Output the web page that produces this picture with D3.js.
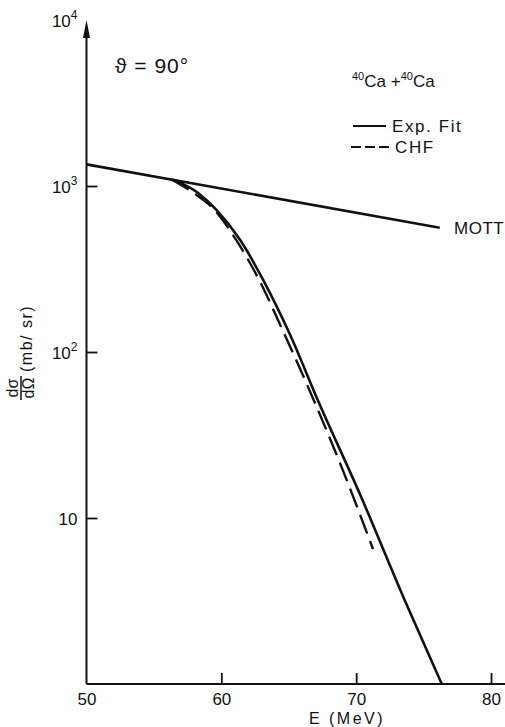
<!DOCTYPE html>
<html>
<head>
<meta charset="utf-8">
<script src="https://cdn.jsdelivr.net/npm/d3@7"></script>
<style>
  body { margin: 0; background: #fff; }
  svg text { font-family: "Liberation Sans", Arial, sans-serif; fill: #111; }
</style>
</head>
<body>
<svg id="chart" width="505" height="727"></svg>
<script>
// data (E in MeV, cross section in mb/sr)
const mott = [[50, 1350], [76.2, 560]];
const expFit = [
  [56.5, 1088], [58.3, 905], [59.6, 724], [61.4, 473],
  [63.1, 272], [65.1, 127], [67.15, 51.4], [70.3, 13.8], [73.6, 3.2], [76.35, 1.0]
];
const chf = [
  [56.3, 1096], [58.1, 890], [59.5, 717], [61.1, 473],
  [62.8, 272], [64.7, 127], [66.85, 51.4], [69.0, 19.5], [71.25, 6.5]
];
const xTicks = [50, 60, 70, 80];
const yTicks = [10, 100, 1000, 10000];
const yTickLabels = { 10: ["10", ""], 100: ["10", "2"], 1000: ["10", "3"], 10000: ["10", "4"] };

const svg = d3.select("#chart");
const ink = "#111";

const x = d3.scaleLinear().domain([50, 80]).range([86.5, 491]);
const y = d3.scaleLog().domain([1, 1e4]).range([684, 20]);

// x axis
const xAxis = svg.append("g")
  .attr("transform", `translate(0,${y(1)})`)
  .call(d3.axisBottom(x).tickValues(xTicks).tickSize(-11).tickPadding(9));
xAxis.select(".domain").remove();
xAxis.selectAll(".tick line").attr("stroke", ink).attr("stroke-width", 1.8)
  .attr("opacity", (d) => (d === 50 ? 0 : 1));
xAxis.selectAll(".tick text").attr("font-size", 17).attr("fill", ink);
svg.append("line")
  .attr("x1", x(50)).attr("x2", 505)
  .attr("y1", y(1)).attr("y2", y(1))
  .attr("stroke", ink).attr("stroke-width", 2);

// y axis
const yAxis = svg.append("g")
  .attr("transform", `translate(${x(50)},0)`)
  .call(d3.axisLeft(y).tickValues(yTicks).tickSize(-11).tickPadding(9).tickFormat(""));
yAxis.select(".domain").remove();
yAxis.selectAll(".tick line").attr("stroke", ink).attr("stroke-width", 1.8)
  .attr("opacity", (d) => (d === 1e4 ? 0 : 1));
yAxis.selectAll(".tick text").each(function (d) {
  const t = d3.select(this).attr("font-size", 17).attr("dy", "0.4em").attr("fill", ink);
  const [base, sup] = yTickLabels[d];
  t.append("tspan").text(base);
  if (sup) t.append("tspan").attr("font-size", 12).attr("dy", -8).text(sup);
});
svg.append("line")
  .attr("x1", x(50)).attr("x2", x(50))
  .attr("y1", y(1)).attr("y2", y(1e4) + 10)
  .attr("stroke", ink).attr("stroke-width", 2);
// arrow head
svg.append("path")
  .attr("d", `M${x(50)},${y(1e4)} L${x(50) - 3.5},${y(1e4) + 18} L${x(50) + 3.5},${y(1e4) + 18} Z`)
  .attr("fill", ink);

// curves
const line = d3.line()
  .x((d) => x(d[0]))
  .y((d) => y(d[1]))
  .curve(d3.curveMonotoneX);

svg.append("path").datum(mott).attr("d", line.curve(d3.curveLinear))
  .attr("fill", "none").attr("stroke", ink).attr("stroke-width", 2.6);
line.curve(d3.curveMonotoneX);
svg.append("path").datum(expFit).attr("d", line)
  .attr("fill", "none").attr("stroke", ink).attr("stroke-width", 2.6);
svg.append("path").datum(chf).attr("d", line)
  .attr("fill", "none").attr("stroke", ink).attr("stroke-width", 2.4)
  .attr("stroke-dasharray", "20,8");

// annotations
svg.append("text").attr("x", 115).attr("y", 73).attr("font-size", 21)
  .attr("font-family", "DejaVu Sans").attr("letter-spacing", 1).text("\u03D1 = 90\u00B0");

const reac = svg.append("text").attr("x", 352).attr("y", 87).attr("font-size", 17);
reac.append("tspan").attr("font-size", 11).attr("dy", -7).text("40");
reac.append("tspan").attr("dy", 7).text("Ca +");
reac.append("tspan").attr("font-size", 11).attr("dy", -7).text("40");
reac.append("tspan").attr("dy", 7).text("Ca");

// legend
svg.append("line").attr("x1", 353).attr("x2", 386).attr("y1", 126).attr("y2", 126)
  .attr("stroke", ink).attr("stroke-width", 2.2);
svg.append("text").attr("x", 392).attr("y", 132).attr("font-size", 17)
  .attr("letter-spacing", 1.6).text("Exp. Fit");
svg.append("line").attr("x1", 351).attr("x2", 392).attr("y1", 147).attr("y2", 147)
  .attr("stroke", ink).attr("stroke-width", 2.2).attr("stroke-dasharray", "10,4");
svg.append("text").attr("x", 395).attr("y", 153).attr("font-size", 17)
  .attr("letter-spacing", 1.6).text("CHF");

svg.append("text").attr("x", 454).attr("y", 234).attr("font-size", 17)
  .attr("letter-spacing", 0.5).text("MOTT");

// axis titles
svg.append("text").attr("x", 347).attr("y", 724).attr("font-size", 16)
  .attr("text-anchor", "middle").attr("letter-spacing", 2.5).text("E (MeV)");

const yt = svg.append("g").attr("transform", "rotate(-90)");
yt.append("text").attr("x", -388).attr("y", 18).attr("font-size", 16)
  .attr("text-anchor", "middle").text("d\u03C3");
yt.append("line").attr("x1", -400).attr("x2", -376).attr("y1", 21).attr("y2", 21)
  .attr("stroke", ink).attr("stroke-width", 1.5);
yt.append("text").attr("x", -388).attr("y", 34).attr("font-size", 16)
  .attr("text-anchor", "middle").text("d\u03A9");
yt.append("text").attr("x", -372).attr("y", 32).attr("font-size", 16)
  .attr("letter-spacing", 1.5).text("(mb/ sr)");
</script>
</body>
</html>
